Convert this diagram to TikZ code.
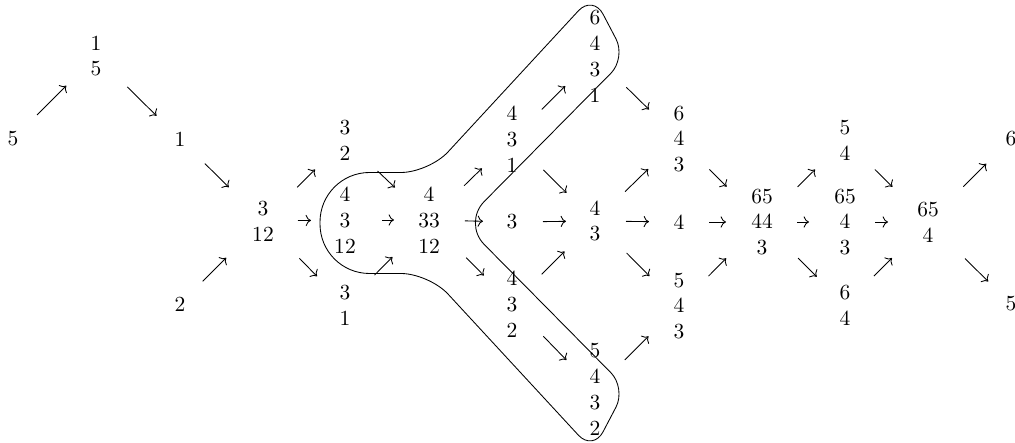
\documentclass[tikz,border=0pt]{standalone}
\usetikzlibrary{arrows.meta}
\tikzset{sh/.style 2 args={shorten <=#1*0.465pt,shorten >=#2*0.465pt}}
\begin{document}
\begin{tikzpicture}[x=0.465pt,y=-0.465pt,>=To,
  num/.style={align=center,inner sep=0pt}]
\useasboundingbox (0,0) rectangle (1015,443);
% the branch that is circled
\draw (511,83.75) [rounded corners=13pt] -- (429,172.5) [rounded corners=23pt] -- (320,172.5)
  -- (320,273.5) [rounded corners=13pt] -- (429,273.5) [rounded corners=10pt] -- (593,451)
  -- (626,388) [rounded corners=14pt] -- (463,223) [rounded corners=10pt] -- (626,58)
  -- (593,-5) -- cycle;
% stacks
\node[num] (A) at (13,139) {5};
\node[num] (B) at (96,56) {1\\5};
\node[num] (C1) at (180,139) {1};
\node[num] (C2) at (180,304) {2};
\node[num] (D) at (263,221) {3\\12};
\node[num] (E1) at (345,140) {3\\2};
\node[num] (E2) at (345,220) {4\\3\\12};
\node[num] (E3) at (345,305) {3\\1};
\node[num] (F) at (429,220) {4\\33\\12};
\node[num] (G1) at (512,139) {4\\3\\1};
\node[num] (G2) at (512,222) {3};
\node[num] (G3) at (512,304) {4\\3\\2};
\node[num] (H1) at (595,56.5) {6\\4\\3\\1};
\node[num] (H2) at (595,221) {4\\3};
\node[num] (H3) at (595,389.5) {5\\4\\3\\2};
\node[num] (I1) at (679,139) {6\\4\\3};
\node[num] (I2) at (679,222) {4};
\node[num] (I3) at (679,306) {5\\4\\3};
\node[num] (J) at (762,222) {65\\44\\3};
\node[num] (K1) at (845,140) {5\\4};
\node[num] (K2) at (845,222) {65\\4\\3};
\node[num] (K3) at (845,305) {6\\4};
\node[num] (L) at (928,222) {65\\4};
\node[num] (M1) at (1011,139) {6};
\node[num] (M2) at (1011,304) {5};
% arrows
\draw[->,sh={34}{42}] (A.center)--(B.center); \draw[->,sh={44}{33}] (B.center)--(C1.center);
\draw[->,sh={35}{48}] (C1.center)--(D.center); \draw[->,sh={32}{52}] (C2.center)--(D.center);
\draw[->,sh={48}{42}] (D.center)--(E1.center); \draw[->,sh={35}{34}] (D.center)--(E2.center);
\draw[->,sh={52}{40}] (D.center)--(E3.center);
\draw[->,sh={45}{47}] (E1.center)--(F.center); \draw[->,sh={37}{35}] (E2.center)--(F.center);
\draw[->,sh={42}{52}] (E3.center)--(F.center);
\draw[->,sh={49}{42}] (F.center)--(G1.center); \draw[->,sh={36}{29}] (F.center)--(G2.center);
\draw[->,sh={53}{40}] (F.center)--(G3.center);
\draw[->,sh={42}{42}] (G1.center)--(H1.center); \draw[->,sh={44}{40}] (G1.center)--(H2.center);
\draw[->,sh={31}{29}] (G2.center)--(H2.center); \draw[->,sh={42}{43}] (G3.center)--(H2.center);
\draw[->,sh={45}{41}] (G3.center)--(H3.center);
\draw[->,sh={44}{42}] (H1.center)--(I1.center); \draw[->,sh={42}{43}] (H2.center)--(I1.center);
\draw[->,sh={31}{30}] (H2.center)--(I2.center); \draw[->,sh={45}{42}] (H2.center)--(I3.center);
\draw[->,sh={42}{43}] (H3.center)--(I3.center);
\draw[->,sh={43}{50}] (I1.center)--(J.center); \draw[->,sh={30}{36}] (I2.center)--(J.center);
\draw[->,sh={42}{51}] (I3.center)--(J.center);
\draw[->,sh={50}{42}] (J.center)--(K1.center); \draw[->,sh={35}{36}] (J.center)--(K2.center);
\draw[->,sh={51}{40}] (J.center)--(K3.center);
\draw[->,sh={42}{50}] (K1.center)--(L.center); \draw[->,sh={30}{40}] (K2.center)--(L.center);
\draw[->,sh={41}{51}] (K3.center)--(L.center);
\draw[->,sh={50}{35}] (L.center)--(M1.center); \draw[->,sh={52}{32}] (L.center)--(M2.center);
\end{tikzpicture}
\end{document}
